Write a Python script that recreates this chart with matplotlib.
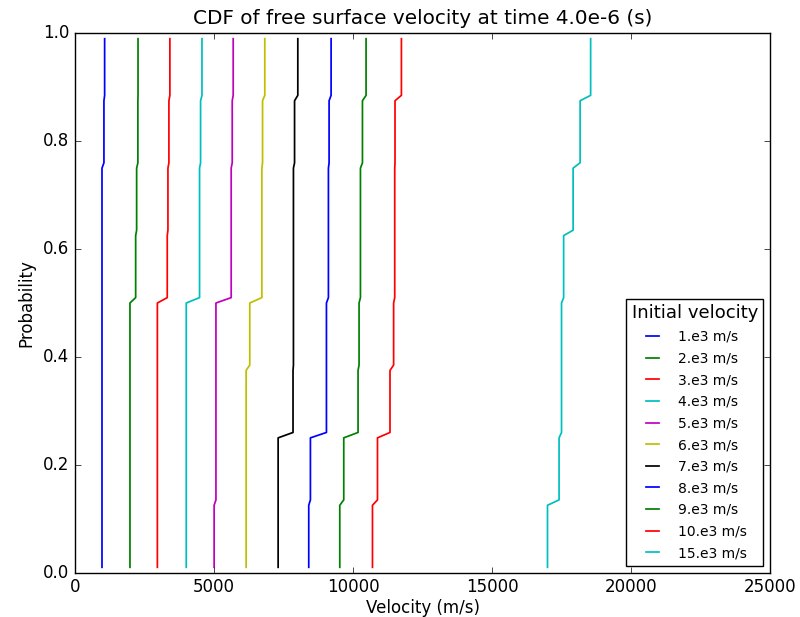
import matplotlib
matplotlib.use("Agg")
import matplotlib.pyplot as plt
import numpy as np

plt.style.use("classic")
plt.rcParams["font.family"] = ["DejaVu Sans"]

# probability bands of each CDF segment (8 groups of samples)
seg_lo = [0.01, 0.135, 0.26, 0.385, 0.51, 0.635, 0.76, 0.885]
seg_hi = [0.125, 0.25, 0.375, 0.50, 0.625, 0.75, 0.875, 0.99]

labels = ["1.e3 m/s", "2.e3 m/s", "3.e3 m/s", "4.e3 m/s", "5.e3 m/s", "6.e3 m/s",
          "7.e3 m/s", "8.e3 m/s", "9.e3 m/s", "10.e3 m/s", "15.e3 m/s"]
colors = ["b", "g", "r", "c", "m", "y", "k", "b", "g", "r", "c"]

v1 = [980, 980, 980, 980, 980, 980, 1050, 1075]
v2 = [1985, 1985, 1985, 1985, 2190, 2225, 2270, 2275]
v3 = [2970, 2970, 2970, 2970, 3325, 3350, 3385, 3420]
v4 = [4008, 4008, 4008, 4008, 4486, 4486, 4523, 4573]
v5 = [5010, 5075, 5075, 5075, 5623, 5623, 5660, 5695]
v6 = [6160, 6160, 6160, 6290, 6725, 6725, 6750, 6830]
v7 = [7310, 7310, 7845, 7860, 7860, 7860, 7900, 8017]
v8 = [8410, 8470, 9046, 9046, 9117, 9117, 9141, 9213]
v9 = [9525, 9668, 10182, 10218, 10268, 10268, 10340, 10470]
v10 = [10700, 10880, 11330, 11460, 11500, 11500, 11510, 11740]
v15 = [16990, 17406, 17494, 17494, 17570, 17910, 18162, 18540]
series = [v1, v2, v3, v4, v5, v6, v7, v8, v9, v10, v15]

fig = plt.figure(figsize=(8.0, 6.17), dpi=100, facecolor="white")
ax = fig.add_axes([0.0934, 0.0718, 0.8696, 0.8742])
ax.set_facecolor("white")

for vals, lab, col in zip(series, labels, colors):
    xs, ys = [], []
    for v, lo, hi in zip(vals, seg_lo, seg_hi):
        xs += [v, v]
        ys += [lo, hi]
    ax.plot(xs, ys, color=col, lw=1.25, label=lab)

ax.set_xlim(0, 25000)
ax.set_ylim(0, 1.0)
ax.set_xticks([0, 5000, 10000, 15000, 20000, 25000])
ax.set_yticks([0.0, 0.2, 0.4, 0.6, 0.8, 1.0])
ax.set_xlabel("Velocity (m/s)", fontsize=12, labelpad=2)
ax.set_ylabel("Probability", fontsize=12)
ax.set_title("CDF of free surface velocity at time 4.0e-6 (s)", fontsize=14.4, y=1.005)
ax.tick_params(labelsize=12)

leg = ax.legend(loc="lower right", fontsize=10, title="Initial velocity",
                fancybox=False, shadow=False, borderaxespad=0.5,
                handlelength=1.5, handletextpad=1.1, labelspacing=0.55)
leg.get_title().set_fontsize(13)
leg.get_frame().set_edgecolor("black")

fig.savefig("out.png", dpi=100, facecolor="white")
